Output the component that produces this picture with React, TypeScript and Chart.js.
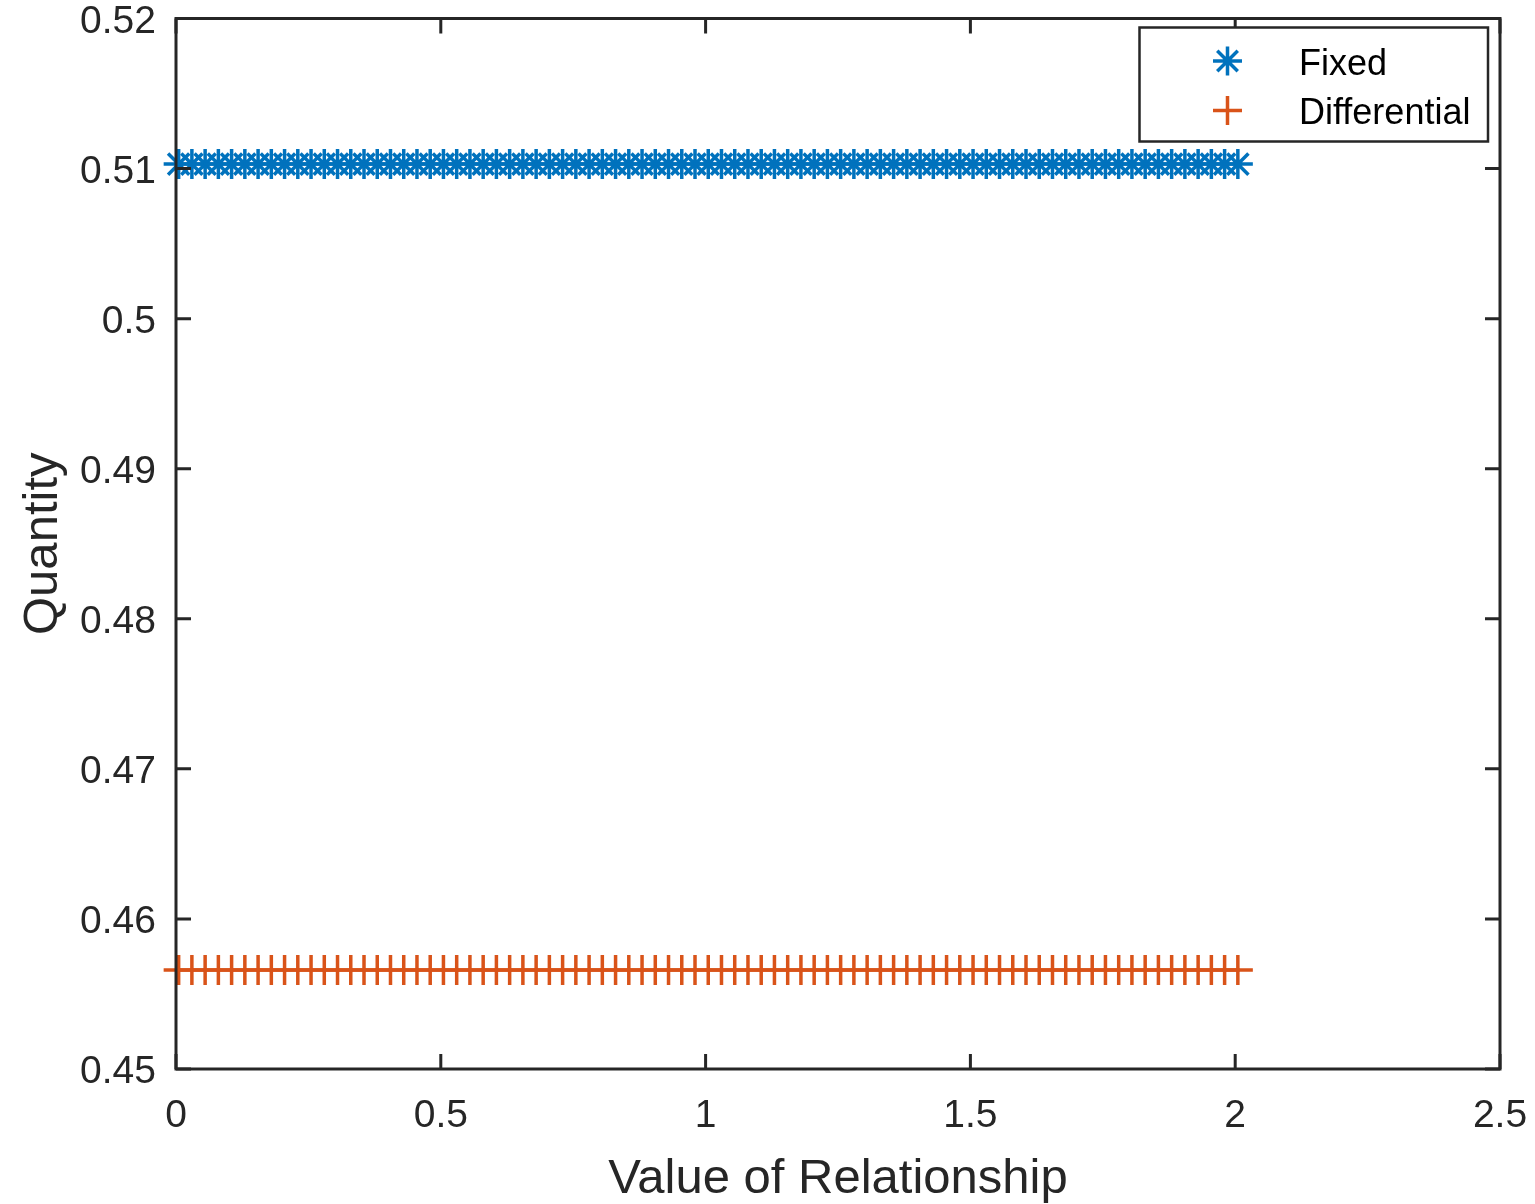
import React, { useEffect, useRef } from 'react';
import { Chart, registerables } from 'chart.js';

Chart.register(...registerables);

// ---- data ----
const xValues = [
  0.005, 0.03, 0.055, 0.08, 0.105, 0.13, 0.155, 0.18, 0.205,
  0.23, 0.255, 0.28, 0.305, 0.33, 0.355, 0.38, 0.405, 0.43,
  0.455, 0.48, 0.505, 0.53, 0.555, 0.58, 0.605, 0.63, 0.655,
  0.68, 0.705, 0.73, 0.755, 0.78, 0.805, 0.83, 0.855, 0.88,
  0.905, 0.93, 0.955, 0.98, 1.005, 1.03, 1.055, 1.08, 1.105,
  1.13, 1.155, 1.18, 1.205, 1.23, 1.255, 1.28, 1.305, 1.33,
  1.355, 1.38, 1.405, 1.43, 1.455, 1.48, 1.505, 1.53, 1.555,
  1.58, 1.605, 1.63, 1.655, 1.68, 1.705, 1.73, 1.755, 1.78,
  1.805, 1.83, 1.855, 1.88, 1.905, 1.93, 1.955, 1.98, 2.005,
];

const fixedValues = [
  0.5103, 0.5103, 0.5103, 0.5103, 0.5103, 0.5103, 0.5103, 0.5103, 0.5103,
  0.5103, 0.5103, 0.5103, 0.5103, 0.5103, 0.5103, 0.5103, 0.5103, 0.5103,
  0.5103, 0.5103, 0.5103, 0.5103, 0.5103, 0.5103, 0.5103, 0.5103, 0.5103,
  0.5103, 0.5103, 0.5103, 0.5103, 0.5103, 0.5103, 0.5103, 0.5103, 0.5103,
  0.5103, 0.5103, 0.5103, 0.5103, 0.5103, 0.5103, 0.5103, 0.5103, 0.5103,
  0.5103, 0.5103, 0.5103, 0.5103, 0.5103, 0.5103, 0.5103, 0.5103, 0.5103,
  0.5103, 0.5103, 0.5103, 0.5103, 0.5103, 0.5103, 0.5103, 0.5103, 0.5103,
  0.5103, 0.5103, 0.5103, 0.5103, 0.5103, 0.5103, 0.5103, 0.5103, 0.5103,
  0.5103, 0.5103, 0.5103, 0.5103, 0.5103, 0.5103, 0.5103, 0.5103, 0.5103,
];

const differentialValues = [
  0.4566, 0.4566, 0.4566, 0.4566, 0.4566, 0.4566, 0.4566, 0.4566, 0.4566,
  0.4566, 0.4566, 0.4566, 0.4566, 0.4566, 0.4566, 0.4566, 0.4566, 0.4566,
  0.4566, 0.4566, 0.4566, 0.4566, 0.4566, 0.4566, 0.4566, 0.4566, 0.4566,
  0.4566, 0.4566, 0.4566, 0.4566, 0.4566, 0.4566, 0.4566, 0.4566, 0.4566,
  0.4566, 0.4566, 0.4566, 0.4566, 0.4566, 0.4566, 0.4566, 0.4566, 0.4566,
  0.4566, 0.4566, 0.4566, 0.4566, 0.4566, 0.4566, 0.4566, 0.4566, 0.4566,
  0.4566, 0.4566, 0.4566, 0.4566, 0.4566, 0.4566, 0.4566, 0.4566, 0.4566,
  0.4566, 0.4566, 0.4566, 0.4566, 0.4566, 0.4566, 0.4566, 0.4566, 0.4566,
  0.4566, 0.4566, 0.4566, 0.4566, 0.4566, 0.4566, 0.4566, 0.4566, 0.4566,
];

const seriesLabels = ['Fixed', 'Differential'];

const xTickValues = [0, 0.5, 1, 1.5, 2, 2.5];
const xTickLabels = ['0', '0.5', '1', '1.5', '2', '2.5'];
const yTickValues = [0.45, 0.46, 0.47, 0.48, 0.49, 0.5, 0.51, 0.52];
const yTickLabels = ['0.45', '0.46', '0.47', '0.48', '0.49', '0.5', '0.51', '0.52'];

const xAxisTitle = 'Value of Relationship';
const yAxisTitle = 'Quantity';

// ---- styles ----
const FONT = "'Liberation Sans', Arial, Helvetica, sans-serif";
const AXIS_COLOR = '#262626';
const BLUE = '#0072BD';
const ORANGE = '#D95319';
const WIDTH = 1535;
const HEIGHT = 1204;

function drawMarker(ctx: CanvasRenderingContext2D, style: string, cx: number, cy: number, r: number) {
  ctx.beginPath();
  ctx.moveTo(cx - r, cy);
  ctx.lineTo(cx + r, cy);
  ctx.moveTo(cx, cy - r);
  ctx.lineTo(cx, cy + r);
  if (style === 'star') {
    const d = r * Math.cos(Math.PI / 4);
    ctx.moveTo(cx - d, cy - d);
    ctx.lineTo(cx + d, cy + d);
    ctx.moveTo(cx - d, cy + d);
    ctx.lineTo(cx + d, cy - d);
  }
  ctx.stroke();
}

const boxPlugin = {
  id: 'matlabBox',
  afterDatasetsDraw(chart: any) {
    const { ctx, chartArea, scales } = chart;
    const { left, right, top, bottom } = chartArea;
    const xs = scales.x;
    const ys = scales.y;
    ctx.save();
    ctx.strokeStyle = AXIS_COLOR;
    ctx.lineWidth = 3;
    ctx.lineCap = 'butt';
    const tl = 15;
    ctx.beginPath();
    for (const v of xTickValues) {
      const px = xs.getPixelForValue(v);
      ctx.moveTo(px, bottom);
      ctx.lineTo(px, bottom - tl);
      ctx.moveTo(px, top);
      ctx.lineTo(px, top + tl);
    }
    for (const v of yTickValues) {
      const py = ys.getPixelForValue(v);
      ctx.moveTo(left, py);
      ctx.lineTo(left + tl, py);
      ctx.moveTo(right, py);
      ctx.lineTo(right - tl, py);
    }
    ctx.stroke();
    ctx.lineJoin = 'miter';
    ctx.strokeRect(left, top, right - left, bottom - top);
    ctx.restore();
  },
};

const legendPlugin = {
  id: 'matlabLegend',
  afterDraw(chart: any) {
    const { ctx } = chart;
    const bx = 1139.5;
    const by = 27.5;
    const bw = 348.5;
    const bh = 114;
    ctx.save();
    ctx.fillStyle = '#ffffff';
    ctx.fillRect(bx, by, bw, bh);
    ctx.strokeStyle = AXIS_COLOR;
    ctx.lineWidth = 2.5;
    ctx.strokeRect(bx, by, bw, bh);
    const rows = [61, 110.5];
    chart.data.datasets.forEach((ds: any, i: number) => {
      ctx.strokeStyle = ds.borderColor;
      ctx.lineWidth = 3.5;
      drawMarker(ctx, ds.pointStyle, 1227.5, rows[i], 14.5);
      ctx.fillStyle = '#000000';
      ctx.font = `36px ${FONT}`;
      ctx.textAlign = 'left';
      ctx.textBaseline = 'middle';
      ctx.fillText(ds.label, 1299, rows[i] + 4);
    });
    ctx.restore();
  },
};

export default function App() {
  const canvasRef = useRef<HTMLCanvasElement | null>(null);

  useEffect(() => {
    document.body.style.margin = '0';
    const canvas = canvasRef.current;
    if (!canvas) return;

    const fixedData = xValues.map((x, i) => ({ x, y: fixedValues[i] }));
    const diffData = xValues.map((x, i) => ({ x, y: differentialValues[i] }));

    const chart = new Chart(canvas, {
      type: 'scatter',
      data: {
        datasets: [
          {
            label: seriesLabels[0],
            data: fixedData,
            pointStyle: 'star',
            pointRadius: 15,
            pointHoverRadius: 15,
            pointBorderWidth: 3.5,
            borderColor: BLUE,
            backgroundColor: BLUE,
            showLine: false,
            clip: false,
          } as any,
          {
            label: seriesLabels[1],
            data: diffData,
            pointStyle: 'cross',
            pointRadius: 15,
            pointHoverRadius: 15,
            pointBorderWidth: 3.5,
            borderColor: ORANGE,
            backgroundColor: ORANGE,
            showLine: false,
            clip: false,
          } as any,
        ],
      },
      options: {
        animation: false,
        responsive: false,
        devicePixelRatio: 1,
        events: [],
        layout: { padding: { top: 18, right: 35, left: 0, bottom: 0 } },
        plugins: {
          legend: { display: false },
          tooltip: { enabled: false },
        },
        scales: {
          x: {
            type: 'linear',
            min: 0,
            max: 2.5,
            grid: { display: false, drawTicks: false },
            border: { display: false },
            afterBuildTicks: (scale: any) => {
              scale.ticks = xTickValues.map((v) => ({ value: v }));
            },
            afterFit: (scale: any) => {
              scale.height = 135;
              scale.paddingLeft = 0;
              scale.paddingRight = 0;
            },
            ticks: {
              autoSkip: false,
              maxRotation: 0,
              padding: 24,
              color: AXIS_COLOR,
              font: { family: FONT, size: 39 },
              callback: (_v: any, i: number) => xTickLabels[i],
            },
            title: {
              display: true,
              text: xAxisTitle,
              color: AXIS_COLOR,
              font: { family: FONT, size: 49 },
              padding: { top: 0, bottom: -5 },
            },
          },
          y: {
            type: 'linear',
            min: 0.45,
            max: 0.52,
            grid: { display: false, drawTicks: false },
            border: { display: false },
            afterBuildTicks: (scale: any) => {
              scale.ticks = yTickValues.map((v) => ({ value: v }));
            },
            afterFit: (scale: any) => {
              scale.width = 176;
              scale.paddingTop = 0;
              scale.paddingBottom = 0;
            },
            ticks: {
              autoSkip: false,
              padding: 20,
              labelOffset: 3.5,
              color: AXIS_COLOR,
              font: { family: FONT, size: 39 },
              callback: (_v: any, i: number) => yTickLabels[i],
            },
            title: {
              display: true,
              text: yAxisTitle,
              color: AXIS_COLOR,
              font: { family: FONT, size: 49 },
              padding: { top: 14, bottom: 0 },
            },
          },
        },
      } as any,
      plugins: [boxPlugin, legendPlugin],
    });

    return () => {
      chart.destroy();
    };
  }, []);

  return (
    <div style={{ position: 'absolute', left: 0, top: 0, width: WIDTH, height: HEIGHT, background: '#ffffff' }}>
      <canvas ref={canvasRef} width={WIDTH} height={HEIGHT} style={{ display: 'block', width: WIDTH, height: HEIGHT }} />
    </div>
  );
}
